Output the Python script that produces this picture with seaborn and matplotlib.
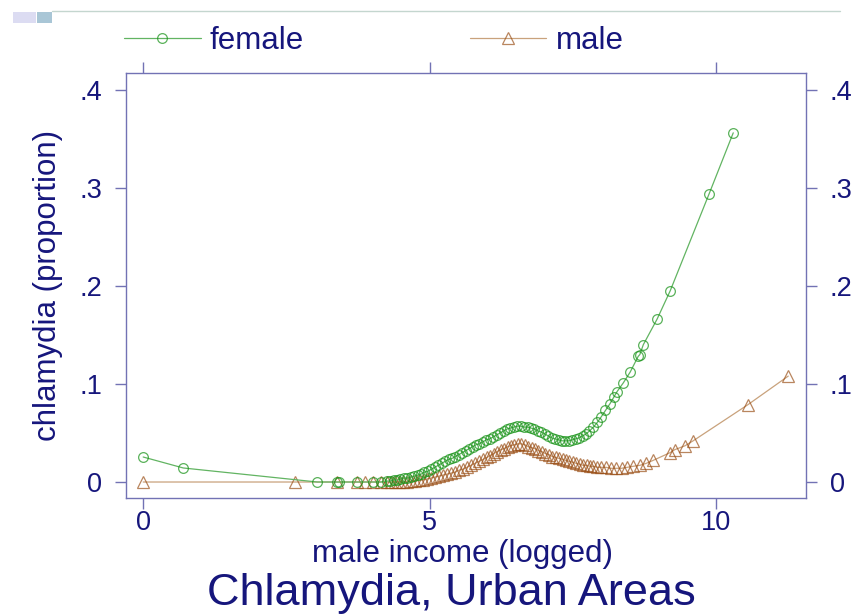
import matplotlib
matplotlib.use("Agg")
import matplotlib.pyplot as plt
from matplotlib.patches import Rectangle
from matplotlib.lines import Line2D
import seaborn as sns
import pandas as pd

# ---------------- data ----------------
female_x = [0.00, 0.70, 3.04, 3.38, 3.42, 3.74, 4.02, 4.15, 4.25, 4.31, 4.37, 4.43,
            4.49, 4.55, 4.61, 4.67, 4.73, 4.79, 4.85, 4.91, 4.97, 5.03, 5.09, 5.15,
            5.21, 5.27, 5.33, 5.39, 5.45, 5.51, 5.57, 5.63, 5.69, 5.75, 5.81, 5.87,
            5.93, 5.99, 6.05, 6.11, 6.17, 6.23, 6.29, 6.35, 6.41, 6.47, 6.53, 6.59,
            6.65, 6.71, 6.77, 6.83, 6.89, 6.95, 7.01, 7.07, 7.13, 7.19, 7.25, 7.31,
            7.37, 7.43, 7.49, 7.55, 7.61, 7.67, 7.73, 7.79, 7.86, 7.93, 7.99, 8.07,
            8.15, 8.22, 8.27, 8.38, 8.50, 8.64, 8.67, 8.73, 8.97, 9.20, 9.88, 10.30]
female_y = [0.0255, 0.0143, 0.000, 0.000, 0.000, 0.000, 0.000, 0.000, 0.001, 0.001, 0.002, 0.002,
            0.003, 0.004, 0.004, 0.005, 0.006, 0.007, 0.008, 0.010, 0.011, 0.013, 0.015, 0.017,
            0.019, 0.021, 0.023, 0.024, 0.026, 0.028, 0.030, 0.032, 0.034, 0.036, 0.038, 0.039,
            0.041, 0.043, 0.044, 0.046, 0.048, 0.050, 0.052, 0.054, 0.055, 0.056, 0.057, 0.057,
            0.056, 0.056, 0.055, 0.054, 0.052, 0.051, 0.049, 0.047, 0.045, 0.044, 0.043, 0.042,
            0.042, 0.042, 0.043, 0.044, 0.045, 0.047, 0.049, 0.052, 0.056, 0.061, 0.066, 0.073,
            0.080, 0.087, 0.092, 0.101, 0.112, 0.128, 0.130, 0.140, 0.166, 0.195, 0.294, 0.356]

male_x = [0.00, 2.65, 3.38, 3.73, 3.87, 4.01, 4.15, 4.25, 4.32, 4.39, 4.46, 4.53,
          4.60, 4.67, 4.74, 4.81, 4.88, 4.95, 5.02, 5.09, 5.16, 5.23, 5.30, 5.37,
          5.44, 5.51, 5.58, 5.65, 5.72, 5.79, 5.86, 5.93, 6.00, 6.06, 6.12, 6.18,
          6.24, 6.30, 6.36, 6.42, 6.48, 6.54, 6.60, 6.66, 6.72, 6.78, 6.84, 6.90,
          6.96, 7.02, 7.08, 7.14, 7.20, 7.26, 7.32, 7.38, 7.44, 7.50, 7.56, 7.62,
          7.68, 7.74, 7.80, 7.86, 7.93, 8.00, 8.08, 8.16, 8.25, 8.35, 8.45, 8.55,
          8.67, 8.78, 8.90, 9.20, 9.28, 9.46, 9.60, 10.56, 11.26]
male_y = [0.000, 0.000, 0.000, 0.000, 0.000, 0.000, 0.000, 0.000, 0.000, 0.000, 0.000, 0.000,
          0.000, 0.001, 0.001, 0.002, 0.002, 0.003, 0.004, 0.005, 0.006, 0.007, 0.008, 0.009,
          0.010, 0.012, 0.013, 0.015, 0.017, 0.019, 0.021, 0.023, 0.025, 0.027, 0.029, 0.031,
          0.033, 0.034, 0.036, 0.037, 0.038, 0.039, 0.039, 0.038, 0.036, 0.035, 0.034, 0.032,
          0.031, 0.029, 0.028, 0.026, 0.025, 0.024, 0.023, 0.022, 0.021, 0.020, 0.019, 0.018,
          0.017, 0.017, 0.016, 0.016, 0.015, 0.015, 0.015, 0.014, 0.014, 0.014, 0.015, 0.016,
          0.017, 0.019, 0.022, 0.030, 0.033, 0.037, 0.042, 0.079, 0.108]

x_ticks = [0, 5, 10]
x_tick_labels = ["0", "5", "10"]
y_ticks = [0, 0.1, 0.2, 0.3, 0.4]
y_tick_labels = ["0", ".1", ".2", ".3", ".4"]
series_labels = ["female", "male"]
x_label = "male income (logged)"
y_label = "chlamydia (proportion)"
title = "Chlamydia, Urban Areas"

# ---------------- style ----------------
sns.set_theme(style="white")
plt.rcParams["font.family"] = ["Liberation Sans", "DejaVu Sans"]

NAVY = "#16167c"
AXC = "#7272b4"
W, H = 854, 616
F_EDGE = (0.10, 0.58, 0.10, 0.72)
M_EDGE = (0.60, 0.30, 0.08, 0.68)

fig = plt.figure(figsize=(W / 100, H / 100), dpi=100)
fig.patch.set_facecolor("white")
ax = fig.add_axes([126 / W, 1 - 498 / H, (806 - 126) / W, (498 - 73) / H])

df_f = pd.DataFrame({"x": female_x, "y": female_y})
df_m = pd.DataFrame({"x": male_x, "y": male_y})

sns.lineplot(data=df_m, x="x", y="y", ax=ax, sort=False, estimator=None,
             color="#c9a27c", lw=0.9, marker="^", markersize=8,
             markerfacecolor="none", markeredgecolor=M_EDGE,
             markeredgewidth=0.9, label=series_labels[1])
sns.lineplot(data=df_f, x="x", y="y", ax=ax, sort=False, estimator=None,
             color="#62b462", lw=0.9, marker="o", markersize=7,
             markerfacecolor="none", markeredgecolor=F_EDGE,
             markeredgewidth=0.9, label=series_labels[0])

ax.set_xlim(-0.30, 11.57)
ax.set_ylim(-0.0163, 0.417)
ax.set_xticks(x_ticks)
ax.set_xticklabels(x_tick_labels)
ax.set_yticks(y_ticks)
ax.set_yticklabels(y_tick_labels)
ax.set_xlabel("")
ax.set_ylabel(y_label, fontsize=22.5, color=NAVY, labelpad=12)

for s in ax.spines.values():
    s.set_visible(True)
    s.set_color(AXC)
    s.set_linewidth(1.0)

ax.tick_params(axis="y", which="both", left=True, right=True, labelleft=True,
               labelright=True, direction="out", length=8, width=1.0,
               color=AXC, labelcolor=NAVY, labelsize=19.5, pad=9)
ax.tick_params(axis="x", which="both", bottom=True, top=True, labelbottom=True,
               labeltop=False, direction="out", length=8, width=1.0,
               color=AXC, labelcolor=NAVY, labelsize=19.5, pad=1)
ax.grid(False)

# legend above plot
handles = [
    Line2D([], [], color="#62b462", lw=0.9, marker="o", markersize=7,
           markerfacecolor="none", markeredgecolor=F_EDGE, markeredgewidth=0.9),
    Line2D([], [], color="#c9a27c", lw=0.9, marker="^", markersize=8,
           markerfacecolor="none", markeredgecolor=M_EDGE, markeredgewidth=0.9),
]
leg = ax.legend(handles, series_labels, ncol=2, frameon=False, fontsize=22.5,
                loc="center left", bbox_to_anchor=(124 / W, 1 - 41 / H),
                bbox_transform=fig.transFigure, borderaxespad=0, borderpad=0,
                handlelength=2.45, handletextpad=0.3, columnspacing=5.3)
for t in leg.get_texts():
    t.set_color(NAVY)

# x label & title
fig.text(463 / W, 1 - 562 / H, x_label, fontsize=22.5, color=NAVY,
         ha="center", va="baseline")
fig.text(451 / W, 1 - 605 / H, title, fontsize=32.5, color=NAVY,
         ha="center", va="baseline")

# slide decoration at the top
fig.patches.append(Rectangle((13 / W, 1 - 23 / H), 23 / W, 11 / H,
                             transform=fig.transFigure, color="#dcdcf2", lw=0))
fig.patches.append(Rectangle((37 / W, 1 - 23 / H), 15 / W, 11 / H,
                             transform=fig.transFigure, color="#a9c6d6", lw=0))
fig.lines.append(Line2D([52 / W, 840 / W], [1 - 11 / H, 1 - 11 / H],
                        transform=fig.transFigure, color="#c4d6cf", lw=1.0))

fig.savefig("out.png", dpi=100, facecolor="white")
